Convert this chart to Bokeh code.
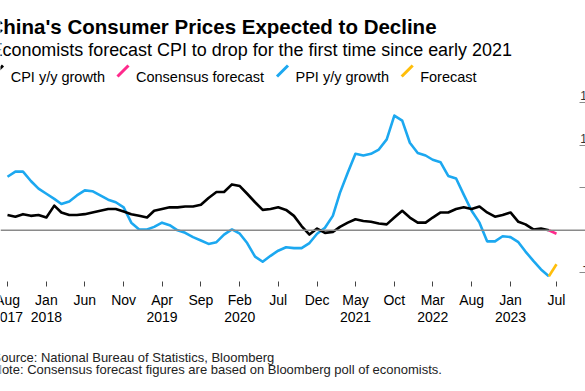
import pandas as pd
from bokeh.plotting import figure
from bokeh.models import Range1d, FixedTicker, Span, Label, Arrow
from bokeh.embed import file_html
from bokeh.resources import INLINE

# ---------------- data ----------------
months = pd.date_range("2017-08-01", "2023-06-01", freq="MS")
cpi = [1.8, 1.6, 1.9, 1.7, 1.8,
       1.5, 2.9, 2.1, 1.8, 1.8, 1.9, 2.1, 2.3, 2.5, 2.5, 2.2, 1.9,
       1.7, 1.5, 2.3, 2.5, 2.7, 2.7, 2.8, 2.8, 3.0, 3.8, 4.5, 4.5,
       5.4, 5.2, 4.3, 3.3, 2.4, 2.5, 2.7, 2.4, 1.7, 0.5, -0.5, 0.2,
       -0.3, -0.2, 0.4, 0.9, 1.3, 1.1, 1.0, 0.8, 0.7, 1.5, 2.3, 1.5,
       0.9, 0.9, 1.5, 2.1, 2.1, 2.5, 2.7, 2.5, 2.8, 2.1, 1.6, 1.8,
       2.1, 1.0, 0.7, 0.1, 0.2, 0.0]
ppi = [6.3, 6.9, 6.9, 5.8, 4.9,
       4.3, 3.7, 3.1, 3.4, 4.1, 4.7, 4.6, 4.1, 3.6, 3.3, 2.7, 0.9,
       0.1, 0.1, 0.4, 0.9, 0.6, 0.0, -0.3, -0.8, -1.2, -1.6, -1.4, -0.5,
       0.1, -0.4, -1.5, -3.1, -3.7, -3.0, -2.4, -2.0, -2.1, -2.1, -1.5, -0.4,
       0.3, 1.7, 4.4, 6.8, 9.0, 8.8, 9.0, 9.5, 10.7, 13.5, 12.9, 10.3,
       9.1, 8.8, 8.3, 8.0, 6.4, 6.1, 4.2, 2.3, 0.9, -1.3, -1.3, -0.7,
       -0.8, -1.4, -2.5, -3.6, -4.6, -5.4]
forecast_month = pd.Timestamp("2023-07-01")
cpi_consensus = -0.4
ppi_forecast = -4.0

series_names = ["CPI y/y growth", "Consensus forecast", "PPI y/y growth", "Forecast"]
series_colors = ["#000000", "#FF2A8C", "#1CA8F0", "#FFBE0A"]

x_tick_dates = ["2017-08-01", "2018-01-01", "2018-06-01", "2018-11-01", "2019-04-01",
                "2019-09-01", "2020-02-01", "2020-07-01", "2020-12-01", "2021-05-01",
                "2021-10-01", "2022-03-01", "2022-08-01", "2023-01-01", "2023-07-01"]
x_tick_labels = ["Aug\n2017", "Jan\n2018", "Jun", "Nov", "Apr\n2019", "Sep", "Feb\n2020",
                 "Jul", "Dec", "May\n2021", "Oct", "Mar\n2022", "Aug", "Jan\n2023", "Jul"]
y_ticks = [-5, 0, 5, 10, 15]
y_tick_labels = ["-5", "0", "5", "10", "15"]

title_text = "China's Consumer Prices Expected to Decline"
subtitle_text = "Economists forecast CPI to drop for the first time since early 2021"
footer_lines = ["Source: National Bureau of Statistics, Bloomberg",
                "Note: Consensus forecast figures are based on Bloomberg poll of economists."]

# ---------------- layout (canvas = whole figure = plot frame) ----------------
W, H = 585, 391
FONT = "Liberation Sans"
px_per_day = 549 / 2160.0
first_px = 7.0                        # canvas x of Aug 2017
x_start = pd.Timestamp("2017-08-01") - pd.Timedelta(days=first_px / px_per_day)
x_end = x_start + pd.Timedelta(days=W / px_per_day)
px_per_unit = 8.5
zero_y = 229.8                        # canvas y of value 0
axis_y = 281.0                        # canvas y of x-axis
y_hi = zero_y / px_per_unit
y_lo = -(H - zero_y) / px_per_unit
y_axis_x = 579.0                      # canvas x of right axis
TICK_OUT, STANDOFF, LINE_H = 5, 5, 1.1

def to_ms(ts):
    return ts.value / 1e6

p = figure(width=W, height=H, x_axis_type="datetime", y_axis_location="right",
           output_backend="svg", toolbar_location=None,
           x_range=Range1d(x_start, x_end), y_range=Range1d(y_lo, y_hi),
           min_border=0, min_border_left=0, min_border_top=0,
           min_border_right=0, min_border_bottom=0)
p.outline_line_color = None
p.background_fill_color = "white"
p.border_fill_color = "white"
p.xgrid.visible = False
p.ygrid.visible = False

# x axis
tick_ms = [to_ms(pd.Timestamp(d)) for d in x_tick_dates]
axis_value = -(axis_y - zero_y) / px_per_unit
xa = p.xaxis[0]
xa.fixed_location = axis_value
xa.ticker = FixedTicker(ticks=tick_ms)
# first label overhangs the left edge; it is drawn as a free label below so it can be cropped
overrides = {t: l for t, l in zip(tick_ms, x_tick_labels)}
overrides[tick_ms[0]] = ""
xa.major_label_overrides = overrides
xa.axis_line_color = None
xa.major_tick_out = TICK_OUT
xa.major_tick_in = 0
xa.major_tick_line_color = "#444444"
xa.minor_tick_line_color = None
xa.major_label_standoff = STANDOFF
xa.major_label_text_font = FONT
xa.major_label_text_font_size = "14px"
xa.major_label_text_color = "#000000"
xa.major_label_text_line_height = LINE_H

p.add_layout(Label(x=tick_ms[0], y=axis_value, x_units="data", y_units="data",
                   y_offset=-(TICK_OUT + STANDOFF), text=x_tick_labels[0],
                   text_align="center", text_baseline="top", text_line_height=LINE_H,
                   text_font=FONT, text_font_size="14px", text_color="#000000"))

# y axis: tick marks on the right; labels sit above the ticks
ya = p.yaxis[0]
ya.fixed_location = to_ms(x_start + pd.Timedelta(days=y_axis_x / px_per_day))
ya.ticker = FixedTicker(ticks=y_ticks)
ya.major_label_overrides = {t: "" for t in y_ticks}
ya.axis_line_color = None
ya.major_tick_out = 6
ya.major_tick_in = 0
ya.major_tick_line_color = "#8a8a8a"
ya.minor_tick_line_color = None

for v, t in zip(y_ticks, y_tick_labels):
    p.add_layout(Label(x=593, y=v, x_units="screen", y_units="data", y_offset=7,
                       text=t, text_align="right", text_baseline="alphabetic",
                       text_font=FONT, text_font_size="12px", text_color="#333333"))

p.add_layout(Span(location=0, dimension="width", line_color="#8a8a8a", line_width=1.5))

# lines
lw = 2.6
p.line(months, ppi, line_color=series_colors[2], line_width=lw, line_join="round")
p.line(months, cpi, line_color=series_colors[0], line_width=lw, line_join="round")
p.line([months[-1], forecast_month], [cpi[-1], cpi_consensus],
       line_color=series_colors[1], line_width=lw, line_join="round")
p.line([months[-1], forecast_month], [ppi[-1], ppi_forecast],
       line_color=series_colors[3], line_width=lw, line_join="round")

def sy(canvas_y):
    return H - canvas_y

# title, subtitle
p.add_layout(Label(x=-12, y=sy(26), x_units="screen", y_units="screen", text=title_text,
                   text_font=FONT, text_font_style="bold", text_font_size="20.5px",
                   text_baseline="alphabetic", text_color="#000000"))
p.add_layout(Label(x=-10, y=sy(49.5), x_units="screen", y_units="screen", text=subtitle_text,
                   text_font=FONT, text_font_size="17.95px",
                   text_baseline="alphabetic", text_color="#000000"))

# legend (slash markers + labels)
marker_cx = [-3.0, 122.5, 282.0, 406.7]
text_x = [10.2, 135.5, 295.0, 419.7]
leg_cy = 70.5
for name, col, cx, tx in zip(series_names, series_colors, marker_cx, text_x):
    p.add_layout(Arrow(end=None, x_start=cx - 5.5, y_start=sy(leg_cy + 5.5),
                       x_end=cx + 5.5, y_end=sy(leg_cy - 5.5),
                       start_units="screen", end_units="screen",
                       line_color=col, line_width=3))
    p.add_layout(Label(x=tx, y=sy(76), x_units="screen", y_units="screen", text=name,
                       text_font=FONT, text_font_size="14.5px",
                       text_baseline="alphabetic", text_color="#000000"))

# footer
for i, line in enumerate(footer_lines):
    p.add_layout(Label(x=-8, y=sy(356.7 + i * 12.6), x_units="screen", y_units="screen",
                       text=line, text_font=FONT, text_font_size="13px",
                       text_baseline="alphabetic", text_color="#222222"))

open("out.html", "w").write(file_html(p, INLINE))
